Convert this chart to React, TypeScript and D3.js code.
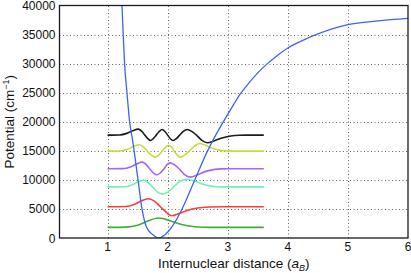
import React from "react";
import * as d3 from "d3";

// Morse-like potential curve (r in a_B, V in cm^-1)
const potentialR = [1.24, 1.26, 1.283, 1.323, 1.367, 1.417, 1.507, 1.573, 1.645, 1.75, 1.85, 1.95, 2.073, 2.24, 2.46, 2.66, 2.8, 2.95, 3.1, 3.2, 3.3, 3.5, 3.66, 3.8, 4.0, 4.25, 4.5, 5.0, 5.5, 6.0];
const potentialV = [40000, 35000, 30000, 25000, 20000, 16800, 10000, 5000, 1940, 600, 0, 500, 1940, 5000, 10200, 14900, 17700, 20400, 23000, 24650, 26000, 28400, 30000, 31200, 32700, 34000, 35100, 36700, 37350, 37770];

// vibrational levels (baseline of each wavefunction) and colours
const levels = [1835, 5370, 8800, 11920, 14950, 17700];
const levelColors = ["#3cae32", "#ff3b3b", "#6ef2b2", "#a366f5", "#c2e034", "#1c1c1c"];

// wavefunction displacement from baseline, [r, dV]
const psi0 = [[1.0, 0], [1.3, 40], [1.5, 350], [1.65, 1000], [1.85, 1600], [2.05, 1100], [2.25, 450], [2.45, 100], [2.7, 0], [3.6, 0]];
const psi1 = [[1.0, 0], [1.3, 50], [1.45, 450], [1.55, 950], [1.68, 1380], [1.8, 800], [1.88, 0], [1.96, -800], [2.07, -1540], [2.2, -1100], [2.35, -550], [2.5, -200], [2.7, -40], [2.9, 0], [3.6, 0]];
const psi2 = [[1.0, 0], [1.3, 30], [1.42, 400], [1.52, 900], [1.6, 1160], [1.68, 700], [1.75, 0], [1.82, -800], [1.907, -1250], [2.0, -900], [2.1, 0], [2.2, 900], [2.33, 1300], [2.45, 950], [2.6, 400], [2.75, 100], [2.9, 0], [3.6, 0]];
const psi3 = [[1.0, 0], [1.25, 20], [1.38, 300], [1.48, 800], [1.573, 1130], [1.64, 750], [1.7, 0], [1.76, -700], [1.823, -1050], [1.88, -700], [1.94, 0], [1.99, 700], [2.045, 1010], [2.11, 700], [2.19, 0], [2.28, -1000], [2.378, -1450], [2.5, -1050], [2.62, -500], [2.76, -150], [2.9, -20], [3.0, 0], [3.6, 0]];
const psi4 = [[1.0, 0], [1.2, 20], [1.33, 300], [1.43, 800], [1.533, 1100], [1.6, 700], [1.66, 0], [1.73, -700], [1.795, -1050], [1.85, -700], [1.91, 0], [1.96, 650], [2.017, 960], [2.07, 650], [2.11, 0], [2.16, -700], [2.21, -1050], [2.28, -700], [2.36, 0], [2.45, 900], [2.53, 1300], [2.63, 1000], [2.75, 450], [2.88, 120], [3.0, 20], [3.1, 0], [3.6, 0]];
const psi5 = [[1.0, 0], [1.2, 30], [1.32, 300], [1.42, 750], [1.51, 1030], [1.57, 650], [1.62, 0], [1.67, -600], [1.712, -930], [1.76, -600], [1.81, 0], [1.86, 620], [1.907, 960], [1.955, 620], [2.0, 0], [2.045, -620], [2.09, -930], [2.145, -600], [2.2, 0], [2.26, 650], [2.323, 960], [2.4, 650], [2.48, 0], [2.57, -900], [2.66, -1300], [2.78, -950], [2.92, -450], [3.05, -150], [3.2, -20], [3.3, 0], [3.6, 0]];
const wavefunctions = [psi0, psi1, psi2, psi3, psi4, psi5];

const xTicks = [1, 2, 3, 4, 5, 6];
const yTicks = [0, 5000, 10000, 15000, 20000, 25000, 30000, 35000, 40000];

const W = 411;
const H = 273;
const margin = { left: 59.5, right: 3, top: 5.5, bottom: 35 };

export default function App() {
  const x = d3.scaleLinear().domain([0.2, 6]).range([margin.left, W - margin.right]);
  const y = d3.scaleLinear().domain([0, 40000]).range([H - margin.bottom, margin.top]);

  const potLine = d3
    .line<number>()
    .x((_, i) => x(potentialR[i]))
    .y((d) => y(d))
    .curve(d3.curveMonotoneX);

  const waveLine = (base: number) =>
    d3
      .line<number[]>()
      .x((d) => x(d[0]))
      .y((d) => y(base + d[1]))
      .curve(d3.curveMonotoneX);

  const font = "'Liberation Sans', Arial, sans-serif";

  return (
    <svg width={W} height={H} style={{ position: "absolute", left: 0, top: 0, background: "#fff" }} fontFamily={font}>
      <defs>
        <clipPath id="plot">
          <rect x={margin.left} y={margin.top} width={W - margin.left - margin.right} height={H - margin.top - margin.bottom} />
        </clipPath>
      </defs>
      {/* grid */}
      <g stroke="#666" strokeWidth={1} strokeDasharray="1,2.5">
        {xTicks.slice(0, -1).map((t) => (
          <line key={"gx" + t} x1={Math.round(x(t)) + 0.5} x2={Math.round(x(t)) + 0.5} y1={y(0)} y2={y(40000)} />
        ))}
        {yTicks.slice(1, -1).map((t) => (
          <line key={"gy" + t} x1={x(0.2)} x2={x(6)} y1={Math.round(y(t)) + 0.5} y2={Math.round(y(t)) + 0.5} />
        ))}
      </g>
      <g clipPath="url(#plot)" fill="none">
        {wavefunctions.map((w, i) => (
          <path key={i} d={waveLine(levels[i])(w) || ""} stroke={levelColors[i]} strokeWidth={1.6} />
        ))}
        <path d={potLine(potentialV) || ""} stroke="#3a64f5" strokeWidth={1.3} />
      </g>
      {/* frame */}
      <rect x={margin.left} y={margin.top} width={W - margin.left - margin.right} height={H - margin.top - margin.bottom} fill="none" stroke="#1a1a1a" strokeWidth={1.3} />
      {/* tick labels */}
      <g fontSize={12} fill="#111">
        {xTicks.map((t) => (
          <text key={"tx" + t} x={x(t)} y={y(0) + 13} textAnchor="middle">
            {t}
          </text>
        ))}
        {yTicks.map((t) => (
          <text key={"ty" + t} x={margin.left - 4} y={y(t) + 4.5} textAnchor="end">
            {t}
          </text>
        ))}
      </g>
      <text x={(x(0.2) + x(6)) / 2} y={268} textAnchor="middle" fontSize={13.5} fill="#111">
        Internuclear distance (<tspan fontStyle="italic">a</tspan>
        <tspan fontStyle="italic" fontSize={9} dy={3}>B</tspan>
        <tspan dy={-3}>)</tspan>
      </text>
      <text transform={`translate(14,${(y(0) + y(40000)) / 2}) rotate(-90)`} textAnchor="middle" fontSize={13.5} fill="#111">
        Potential (cm<tspan fontSize={9} dy={-5}>−1</tspan>
        <tspan dy={5}>)</tspan>
      </text>
    </svg>
  );
}
